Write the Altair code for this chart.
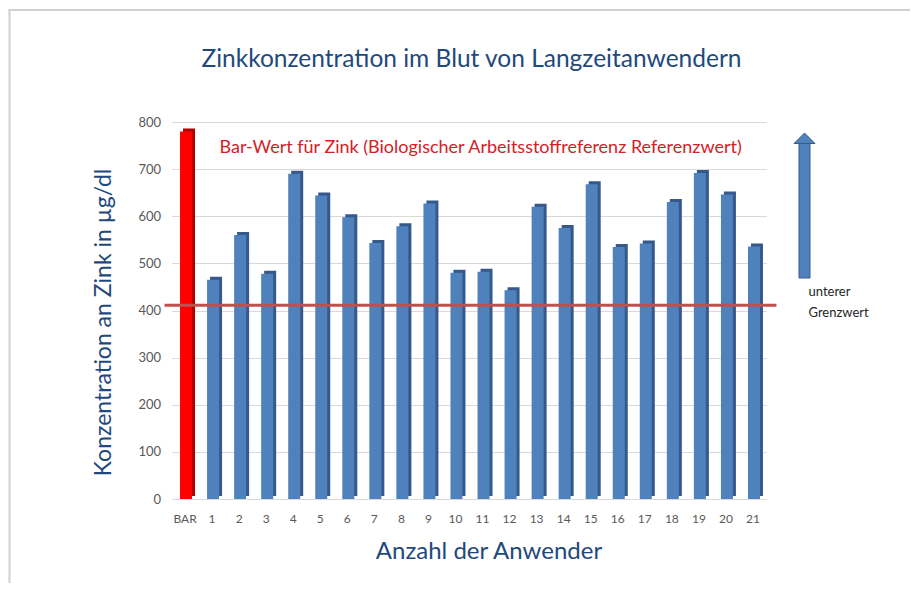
import altair as alt
import pandas as pd

categories = ["BAR"] + [str(i) for i in range(1, 22)]
values = [780, 465, 560, 478, 690, 644, 598, 543, 579, 627, 480, 482, 443,
          620, 575, 668, 535, 542, 630, 692, 646, 536]
groups = ["BAR"] + ["Anwender"] * 21
lower_limit = 411

title_text = "Zinkkonzentration im Blut von Langzeitanwendern"
x_title = "Anzahl der Anwender"
y_title = "Konzentration an Zink in µg/dl"
bar_note = "Bar-Wert für Zink (Biologischer Arbeitsstoffreferenz Referenzwert)"
limit_note = ["unterer", "Grenzwert"]

df = pd.DataFrame({"cat": categories, "val": values, "grp": groups})
one = pd.DataFrame({"a": [0]})

FONT = "Lato"
W, H = 595, 377

xenc = alt.X("cat:N", sort=categories,
             scale=alt.Scale(paddingInner=0.0, paddingOuter=0.0),
             axis=alt.Axis(title=x_title, labelAngle=0, ticks=False, domain=False,
                           grid=False,
                           labelPadding=14, labelFontSize=12, labelColor="#595959",
                           labelFont=FONT, titleFont=FONT, titleFontSize=24,
                           titleFontWeight="normal", titleColor="#1F497D",
                           titleX=317, titleY=52, titleBaseline="middle",
                           titleAlign="center"))
yenc = alt.Y("val:Q", scale=alt.Scale(domain=[0, 800], nice=False),
             axis=alt.Axis(title=y_title, values=list(range(0, 801, 100)),
                           ticks=False, domain=False, labelPadding=11,
                           labelFontSize=13, labelColor="#595959", labelFont=FONT,
                           gridColor="#D9D9D9", gridWidth=1,
                           titleFont=FONT, titleFontSize=23, titleFontWeight="normal",
                           titleColor="#1F497D", titleX=-68, titleY=200,
                           titleAngle=270, titleBaseline="middle",
                           titleAlign="center"))

is_bar = alt.datum.grp == "BAR"

back = alt.Chart(df).mark_bar(width=12, xOffset=4, yOffset=-3, y2Offset=-3).encode(
    x=xenc, y=yenc,
    color=alt.condition(is_bar, alt.value("#B00000"), alt.value("#35598A")),
)
front = alt.Chart(df).mark_bar(width=12, xOffset=1).encode(
    x=alt.X("cat:N", sort=categories), y="val:Q",
    color=alt.condition(is_bar, alt.value("#FF0000"), alt.value("#4F81BD")),
)

limit = alt.Chart(one).mark_rule(color="#C0504D", strokeWidth=3).encode(
    y=alt.datum(lower_limit), x=alt.value(-7), x2=alt.value(605))

note = alt.Chart(one).mark_text(text=bar_note, align="left", baseline="middle",
                                font=FONT, fontSize=18, color="#D42027").encode(
    x=alt.value(48), y=alt.value(26))

lim_text = alt.Chart(pd.DataFrame({"t": limit_note, "yy": [170, 191]})).mark_text(
    align="left", baseline="middle", font=FONT, fontSize=13, color="#262626").encode(
    text="t:N", x=alt.value(637), y=alt.Y("yy:Q", scale=None))

shaft = alt.Chart(one).mark_rect(color="#4F81BD", stroke="#385D8A", strokeWidth=1).encode(
    x=alt.value(627.5), x2=alt.value(638.5), y=alt.value(21), y2=alt.value(156))
head = alt.Chart(one).mark_point(shape="M-1,0L0,-1L1,0Z", size=441, filled=True,
                                 color="#4F81BD", stroke="#385D8A", strokeWidth=1,
                                 opacity=1).encode(
    x=alt.value(633), y=alt.value(21.5))

frame_v = alt.Chart(one).mark_rule(color="#D0D0D0", strokeWidth=2).encode(
    x=alt.value(-162), y=alt.value(-112), y2=alt.value(480))
frame_h = alt.Chart(one).mark_rule(color="#D0D0D0", strokeWidth=2).encode(
    y=alt.value(-112), x=alt.value(-163), x2=alt.value(760))

title = alt.Chart(one).mark_text(text=title_text, align="center", baseline="middle",
                                 font=FONT, fontSize=24.5, color="#1F497D").encode(
    x=alt.value(300), y=alt.value(-62))

chart = alt.layer(back, front, limit, note, lim_text, shaft, head,
                  frame_v, frame_h, title).properties(
    width=W, height=H,
    background="white",
    autosize=alt.AutoSizeParams(type="none"),
    padding={"left": 163.5, "top": 114, "right": 143.5, "bottom": 84},
).configure_view(strokeWidth=0, stroke="transparent")

chart.save("out.html", embed_options={"renderer": "svg", "actions": False})
